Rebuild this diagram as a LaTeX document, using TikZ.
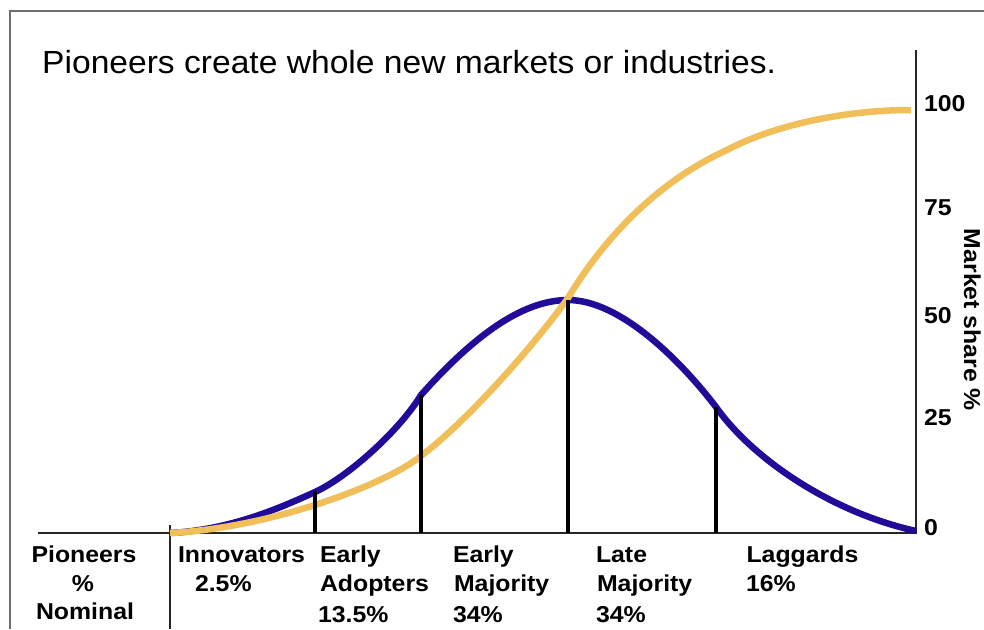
\documentclass[tikz,border=0pt]{standalone}
\usepackage{fontspec}
\setmainfont{Liberation Sans}
\newfontfamily\titlefont[FakeStretch=1.05]{Liberation Sans}
\newfontfamily\labfont[FakeStretch=1.08]{Liberation Sans Bold}
\definecolor{bellblue}{HTML}{200C99}
\definecolor{sgold}{HTML}{F0BF5A}
\definecolor{framegray}{HTML}{6E6E6E}
\begin{document}
\begin{tikzpicture}[x=1pt,y=-1pt,
  frame/.style={draw=framegray, line width=1.6pt},
  axisline/.style={draw=black!85, line width=2.4pt},
  divider/.style={draw=black, line width=3.6pt},
  bell/.style={draw=bellblue, line width=6.5pt},
  scurve/.style={draw=sgold, line width=6.5pt},
  lab/.style={inner sep=0pt, outer sep=0pt, anchor=base west, font=\labfont\fontsize{23}{28}\selectfont},
  labc/.style={lab, anchor=base},
  titletext/.style={inner sep=0pt, anchor=base west, font=\titlefont\fontsize{32}{38}\selectfont},
]
\useasboundingbox (0,0) rectangle (984,629);
\fill[white] (0,0) rectangle (984,629);

% frame
\coordinate (ftr) at (984,11);
\coordinate (ftl) at (10,11);
\coordinate (fbl) at (10,629);
\draw[frame] (ftr) -- (ftl) -- (fbl);

% title
\node[titletext] (title) at (42,73) {Pioneers create whole new markets or industries.};

% axes
\coordinate (b0) at (38,533);
\coordinate (b1) at (916,533);
\coordinate (atop) at (916,50);
\draw[axisline] (b0) -- (b1) -- (atop);

% start tick
\coordinate (t0a) at (170,525);
\coordinate (t0b) at (170,629);
\draw[axisline, line width=2.8pt] (t0a) -- (t0b);

% bell curve
\coordinate (c0) at (170,533);
\coordinate (c1) at (315,492);
\coordinate (c2) at (421,395);
\coordinate (c3) at (568,300);
\coordinate (c4) at (716,407);
\coordinate (c5) at (916,531);
\draw[bell] (c0) .. controls (230,530) and (280,508) .. (c1)
  .. controls (348,477) and (400,430) .. (c2)
  .. controls (470,340) and (520,300) .. (c3)
  .. controls (620,300) and (680,360) .. (c4)
  .. controls (752,458) and (830,512) .. (c5);

% S curve
\coordinate (s0) at (170,533);
\coordinate (s1) at (421,456);
\coordinate (s2) at (568,298);
\coordinate (s3) at (727,150);
\coordinate (s4) at (911,110);
\draw[scurve] (s0) .. controls (270,528) and (385,485) .. (s1)
  .. controls (471,418) and (538,340) .. (s2)
  .. controls (598,248) and (650,185) .. (s3)
  .. controls (770,127) and (840,110) .. (s4);

% dividers
\coordinate (d1a) at (315,491); \coordinate (d1b) at (315,533);
\coordinate (d2a) at (421,395); \coordinate (d2b) at (421,533);
\coordinate (d3a) at (568,300); \coordinate (d3b) at (568,533);
\coordinate (d4a) at (716,407); \coordinate (d4b) at (716,533);
\draw[divider] (d1a) -- (d1b);
\draw[divider] (d2a) -- (d2b);
\draw[divider] (d3a) -- (d3b);
\draw[divider] (d4a) -- (d4b);

% axis numbers
\node[lab] (n100) at (924,111.5) {100};
\node[lab] (n75) at (924,215) {75};
\node[lab] (n50) at (924,323) {50};
\node[lab] (n25) at (924,425) {25};
\node[lab] (n0) at (924,535) {0};
\node[labc, rotate=-90] (mshare) at (964,320) {Market share \%};

% bottom labels
\node[labc] (pio1) at (84,562.5) {Pioneers};
\node[labc] (pio2) at (83,591.5) {\%};
\node[labc] (pio3) at (85,619) {Nominal};

\node[lab] (inn1) at (178,562.5) {Innovators};
\node[lab] (inn2) at (195,591.5) {2.5\%};

\node[lab] (ea1) at (320,562.5) {Early};
\node[lab] (ea2) at (320,591.5) {Adopters};
\node[lab] (ea3) at (318,622) {13.5\%};

\node[lab] (em1) at (453,562.5) {Early};
\node[lab] (em2) at (454,591.5) {Majority};
\node[lab] (em3) at (453,622) {34\%};

\node[lab] (lm1) at (596,562.5) {Late};
\node[lab] (lm2) at (597,591.5) {Majority};
\node[lab] (lm3) at (596,622) {34\%};

\node[lab] (lg1) at (746.5,562.5) {Laggards};
\node[lab] (lg2) at (746,591.5) {16\%};
\end{tikzpicture}
\end{document}
